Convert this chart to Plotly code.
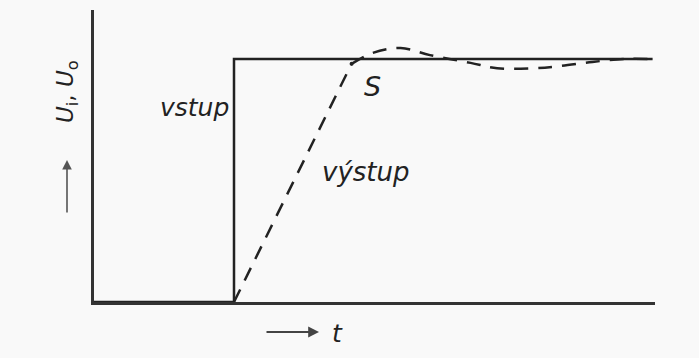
import plotly.graph_objects as go

# Input step ("vstup")
t_in = [0.0, 1.0, 1.0, 3.99]
u_in = [0.0, 0.0, 1.0, 1.0]

# Output response ("výstup") - linear ramp then damped oscillation
t_out = [1.0, 1.42, 1.84]
u_out = [0.0, 0.49, 0.98]
t_osc = [1.84, 1.99, 2.19, 2.40, 2.69, 2.88, 3.15, 3.33, 3.56, 3.79, 3.97]
u_osc = [0.98, 1.025, 1.045, 1.016, 0.984, 0.962, 0.962, 0.971, 0.988, 1.0, 1.0]

S_point = ([1.84], [0.98])

LINE = "#222222"
FONT = "DejaVu Sans, Verdana, sans-serif"

fig = go.Figure()
fig.add_trace(go.Scatter(x=t_in, y=u_in, mode="lines",
                         line=dict(color=LINE, width=2.5), hoverinfo="skip"))
fig.add_trace(go.Scatter(x=t_out, y=u_out, mode="lines",
                         line=dict(color=LINE, width=2.5, dash="14px,10px"), hoverinfo="skip"))
fig.add_trace(go.Scatter(x=t_osc, y=u_osc, mode="lines",
                         line=dict(color=LINE, width=2.5, dash="14px,10px", shape="spline", smoothing=1.0),
                         hoverinfo="skip"))
fig.add_trace(go.Scatter(x=S_point[0], y=S_point[1], mode="markers",
                         marker=dict(color=LINE, size=4), hoverinfo="skip"))

L, R, T, B = 94, 44, 10, 56
W, H = 699, 358
pw, ph = W - L - R, H - T - B

def px(x):
    return (x - L) / pw

def py(y):
    return (H - B - y) / ph

C = dict(xanchor="center", yanchor="middle")
annotations = [
    dict(x=0.72, y=0.80, xref="x", yref="y", text="<i>vstup</i>", showarrow=False,
         font=dict(family=FONT, size=25, color=LINE), **C),
    dict(x=1.94, y=0.535, xref="x", yref="y", text="<i>výstup</i>", showarrow=False,
         font=dict(family=FONT, size=26, color=LINE), **C),
    dict(x=1.99, y=0.885, xref="x", yref="y", text="<i>S</i>", showarrow=False,
         font=dict(family=FONT, size=27, color=LINE), **C),
    dict(x=px(67), y=py(92), xref="paper", yref="paper",
         text="<i>U</i><sub>i</sub>, <i>U</i><sub>o</sub>", showarrow=False, textangle=-90,
         font=dict(family=FONT, size=23, color=LINE), **C),
    dict(x=px(67), y=py(160), xref="paper", yref="paper", text="", showarrow=True,
         ax=0, ay=54, arrowhead=2, arrowsize=1.2, arrowwidth=1.6, arrowcolor="#555555"),
    dict(x=px(319), y=py(332), xref="paper", yref="paper", text="", showarrow=True,
         ax=-54, ay=0, arrowhead=2, arrowsize=1.2, arrowwidth=1.8, arrowcolor="#444444"),
    dict(x=px(337), y=py(333), xref="paper", yref="paper", text="<i>t</i>", showarrow=False,
         font=dict(family=FONT, size=25, color=LINE), **C),
]

fig.update_layout(
    width=W, height=H,
    margin=dict(l=L, r=R, t=T, b=B),
    paper_bgcolor="#f9f9f9", plot_bgcolor="#f9f9f9",
    showlegend=False,
    annotations=annotations,
    xaxis=dict(range=[0, pw / 140], showgrid=False, zeroline=False, showticklabels=False,
               ticks="", showline=True, linecolor="#333333", linewidth=2.5, fixedrange=True),
    yaxis=dict(range=[0, ph / 243], showgrid=False, zeroline=False, showticklabels=False,
               ticks="", showline=True, linecolor="#333333", linewidth=2.5, fixedrange=True),
)

fig.write_html("out.html", config={"displayModeBar": False},
               post_script="document.body.style.margin='0';document.body.style.background='#f9f9f9';")
